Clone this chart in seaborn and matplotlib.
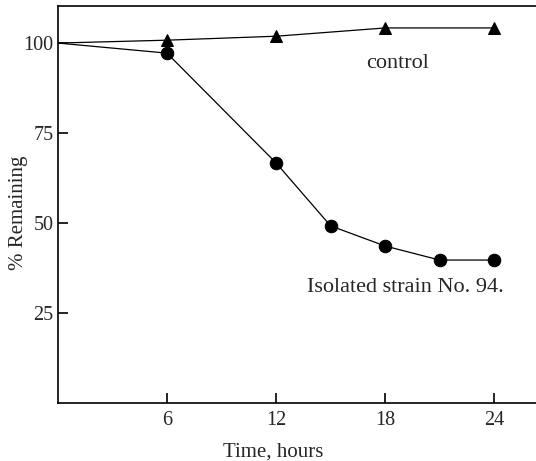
import numpy as np
import pandas as pd
import matplotlib
matplotlib.use('Agg')
import matplotlib.pyplot as plt
import seaborn as sns

# values
control_hours = [0, 6, 12, 18, 24]
control_remaining = [100, 100.8, 101.9, 104.2, 104.2]
strain_hours = [0, 6, 12, 15, 18, 21, 24]
strain_remaining = [100, 97.2, 66.7, 49.2, 43.6, 39.7, 39.7]
x_ticks = [6, 12, 18, 24]
y_ticks = [25, 50, 75, 100]

sns.set_style('ticks')
plt.rcParams['font.family'] = ['Liberation Serif', 'DejaVu Serif']

fig = plt.figure(figsize=(5.36, 4.61), dpi=100)
ax = fig.add_axes([0.108, 0.126, 0.892, 0.861])

control = pd.DataFrame({'hours': control_hours, 'remaining': control_remaining})
strain = pd.DataFrame({'hours': strain_hours, 'remaining': strain_remaining})

# control curve with triangles (no marker at the starting point)
sns.lineplot(data=control, x='hours', y='remaining', ax=ax, color='black',
             linewidth=0.9, marker='^', markersize=8.5, markeredgecolor='black',
             markevery=slice(1, None))
# strain curve with dots
sns.lineplot(data=strain, x='hours', y='remaining', ax=ax, color='black',
             linewidth=0.9, marker='o', markersize=9, markeredgecolor='black',
             markevery=slice(1, None))

ax.set_xlim(0, 26.3)
ax.set_ylim(0, 110.3)
ax.set_xticks(x_ticks)
ax.set_yticks(y_ticks)
ax.tick_params(axis='both', direction='in', length=7, width=1.2,
               labelsize=14.5, color='black')
ax.tick_params(axis='x', pad=6)
ax.tick_params(axis='y', pad=3)

ax.spines['right'].set_visible(False)
for s in ['left', 'bottom', 'top']:
    ax.spines[s].set_linewidth(1.2)
    ax.spines[s].set_color('black')

ax.set_xlabel('Time, hours', fontsize=15)
ax.set_ylabel('% Remaining', fontsize=15)
ax.xaxis.set_label_coords(0.45, -0.10)
ax.yaxis.set_label_coords(-0.062, 0.48)

ax.text(18.7, 94.2, 'control', fontsize=16, ha='center', va='center')
ax.text(19.1, 32.2, 'Isolated strain No. 94.', fontsize=16, ha='center', va='center')

fig.savefig('out.png', dpi=100)
